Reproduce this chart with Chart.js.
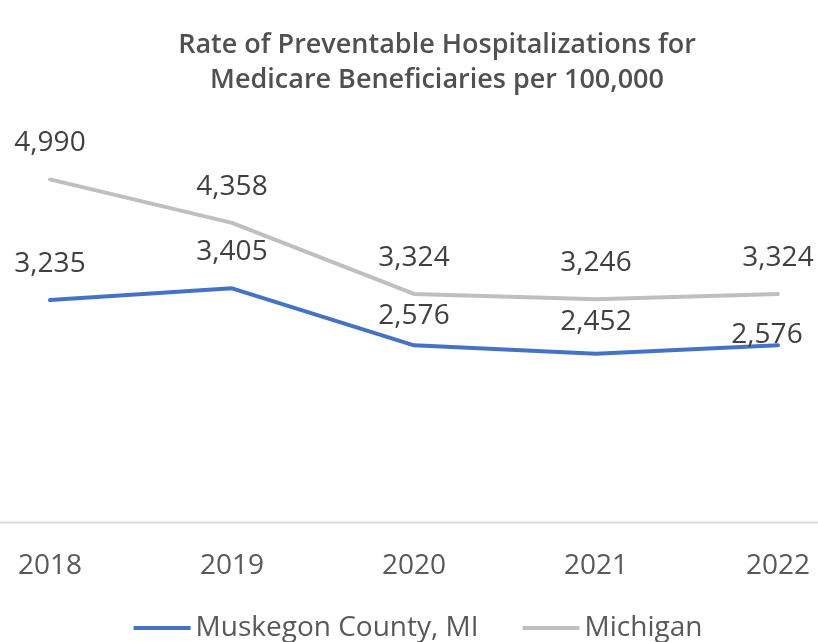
<!DOCTYPE html>
<html>
<head>
<meta charset="utf-8">
<title>Preventable Hospitalizations</title>
<script src="https://cdn.jsdelivr.net/npm/chart.js@4.4.0/dist/chart.umd.min.js"></script>
<style>
    html, body { margin: 0; padding: 0; background: #fff; }
    #wrap { width: 818px; height: 642px; position: relative; }
</style>
</head>
<body>
<div id="wrap"><canvas id="chart"></canvas></div>
<script>
// Chart data
const years = ['2018', '2019', '2020', '2021', '2022'];
const muskegon = [3235, 3405, 2576, 2452, 2576];
const michigan = [4990, 4358, 3324, 3246, 3324];
const seriesNames = ['Muskegon County, MI', 'Michigan'];
const seriesColors = ['#4472c4', '#bfbfbf'];
const titleLines = ['Rate of Preventable Hospitalizations for', 'Medicare Beneficiaries per 100,000'];

// small per-label nudges (dx, dy) so labels sit where the original put them
const labelNudge = [
    [[0, 0], [0, 0], [0, 7], [0, 4], [-11, 26]],
    [[0, 0], [0, 0], [0, 0], [0, 0], [0, 0]]
];

const FONT = "'Open Sans', 'DejaVu Sans', sans-serif";

// Draws the title, the full-width baseline, value labels and the legend
const decorations = {
    id: 'decorations',
    beforeDatasetsDraw(chart) {
        const ctx = chart.ctx;
        const y = chart.chartArea.bottom;
        ctx.save();
        ctx.strokeStyle = '#d9d9d9';
        ctx.lineWidth = 2;
        ctx.beginPath();
        ctx.moveTo(0, y);
        ctx.lineTo(chart.width, y);
        ctx.stroke();
        ctx.restore();
    },
    afterDatasetsDraw(chart) {
        const ctx = chart.ctx;
        ctx.save();
        ctx.textAlign = 'center';
        ctx.textBaseline = 'middle';

        // value labels
        ctx.fillStyle = '#404040';
        ctx.font = '28px ' + FONT;
        chart.data.datasets.forEach((ds, i) => {
            const meta = chart.getDatasetMeta(i);
            meta.data.forEach((pt, j) => {
                const [dx, dy] = labelNudge[i][j];
                ctx.fillText(ds.data[j].toLocaleString('en-US'), pt.x + dx, pt.y - 36 + dy);
            });
        });

        // title
        ctx.fillStyle = '#505050';
        ctx.font = '600 27px ' + FONT;
        titleLines.forEach((line, k) => {
            ctx.fillText(line, 437, 45 + k * 35);
        });

        // legend
        ctx.font = '28px ' + FONT;
        ctx.textAlign = 'left';
        const lineW = 57, gap = 5, spacing = 44, legendY = 628;
        const widths = seriesNames.map(n => ctx.measureText(n).width);
        const total = widths.reduce((a, w) => a + lineW + gap + w, 0) + spacing * (seriesNames.length - 1);
        let x = 418 - total / 2;
        seriesNames.forEach((name, i) => {
            ctx.strokeStyle = seriesColors[i];
            ctx.lineWidth = 4;
            ctx.beginPath();
            ctx.moveTo(x, legendY);
            ctx.lineTo(x + lineW, legendY);
            ctx.stroke();
            ctx.fillStyle = '#595959';
            ctx.fillText(name, x + lineW + gap, legendY);
            x += lineW + gap + widths[i] + spacing;
        });
        ctx.restore();
    }
};

new Chart(document.getElementById('chart'), {
    type: 'line',
    data: {
        labels: years,
        datasets: [
            {
                label: seriesNames[0],
                data: muskegon,
                borderColor: seriesColors[0],
                backgroundColor: seriesColors[0],
                borderWidth: 4
            },
            {
                label: seriesNames[1],
                data: michigan,
                borderColor: seriesColors[1],
                backgroundColor: seriesColors[1],
                borderWidth: 4
            }
        ]
    },
    options: {
        responsive: true,
        maintainAspectRatio: false,
        animation: false,
        clip: false,
        elements: {
            point: { radius: 0, hoverRadius: 0 },
            line: { tension: 0, borderJoinStyle: 'round', borderCapStyle: 'round' }
        },
        layout: {
            padding: { top: 110, left: 50, right: 40, bottom: 32 }
        },
        scales: {
            x: {
                offset: false,
                grid: { display: false, drawTicks: false },
                border: { display: false },
                ticks: {
                    color: '#595959',
                    font: { family: FONT, size: 28 },
                    padding: 27,
                    maxRotation: 0
                },
                afterFit(scale) {
                    scale.paddingLeft = 0;
                    scale.paddingRight = 0;
                }
            },
            y: {
                display: false,
                min: 0,
                max: 6000
            }
        },
        plugins: {
            title: { display: false },
            tooltip: { enabled: false },
            legend: { display: false }
        }
    },
    plugins: [decorations]
});
</script>
</body>
</html>
